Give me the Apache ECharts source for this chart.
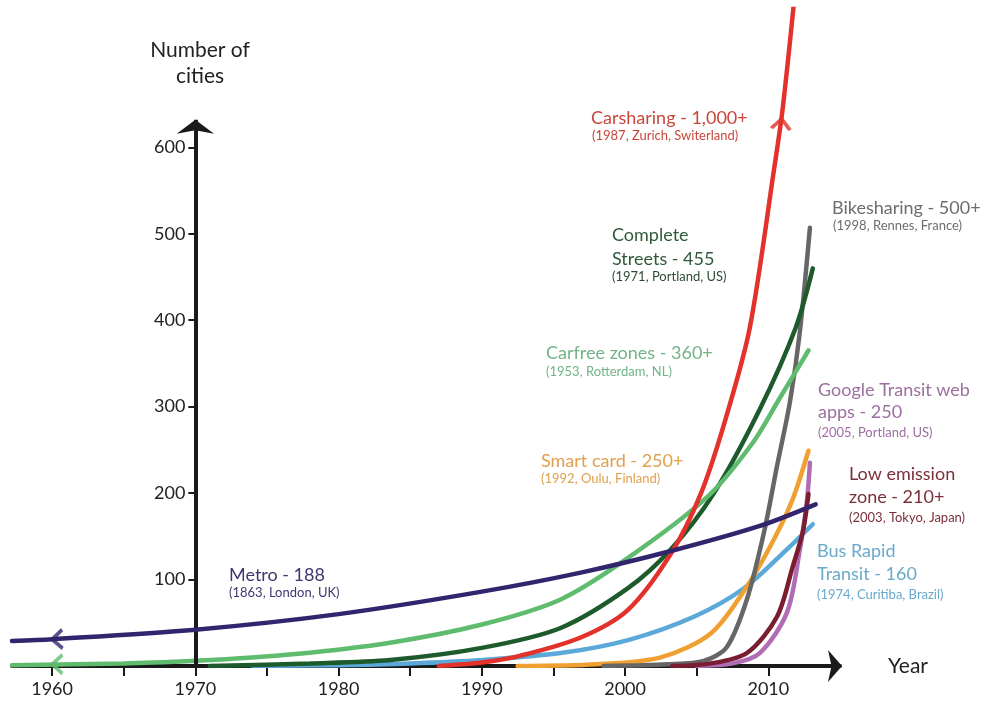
<!DOCTYPE html>
<html>
<head>
<meta charset="utf-8">
<script src="https://cdn.jsdelivr.net/npm/echarts@6/dist/echarts.min.js"></script>
<style>html,body{margin:0;padding:0;background:#fff}#c{width:987px;height:702px}</style>
</head>
<body>
<div id="c"></div>
<script>
// ---- data (year, number of cities) ----
const xTicks = [1960, 1965, 1970, 1975, 1980, 1985, 1990, 1995, 2000, 2005, 2010];
const xLabels = [1960, 1970, 1980, 1990, 2000, 2010];
const yLabels = [100, 200, 300, 400, 500, 600];

const metro = [[1957.2,29],[1960,31],[1970,42],[1980,60],[1990,86],[1996.9,108],[2003.2,133],[2009.4,162],[2013.3,187]];
const carfree = [[1957.2,1],[1965,3],[1970,6],[1977,14],[1983.6,27],[1990,48],[1995.5,77],[2000.2,125],[2005.7,195],[2008.9,258],[2010.8,310],[2012.8,365]];
const completeStreets = [[1971,0],[1978,3],[1983.6,7],[1990,21],[1995.5,44],[2000.2,90],[2003.2,135],[2006.2,200],[2009.4,297],[2011.9,391],[2013.1,460]];
const carsharing = [[1987,0],[1990,4],[1992.7,12],[1996.9,33],[2000.2,65],[2003.2,130],[2005.3,200],[2007,285],[2008.7,391],[2010.4,575],[2011,645],[2011.8,770]];
const bikesharing = [[1998.5,0],[2003,2],[2005.5,6],[2007.1,22],[2008.5,77],[2009.7,155],[2010.6,231],[2011.5,305],[2012.2,387],[2012.9,507]];
const smartCard = [[1992.5,0],[1998,2],[2002.5,10],[2006,38],[2008.5,92],[2010.4,147],[2011.7,193],[2012.8,249]];
const brt = [[1974,0],[1980,1],[1985,3],[1990,7],[1995.5,15],[2000.2,30],[2004.8,57],[2008.3,90],[2011.3,135],[2013.1,164]];
const lowEmission = [[2003.3,0],[2006,3],[2008.5,15],[2010.6,57],[2011.7,115],[2012.4,155],[2012.8,199]];
const googleTransit = [[2005,0],[2007.5,3],[2009.4,15],[2011.3,62],[2012.2,135],[2012.7,193],[2012.9,235]];

// arrow heads on the curves: [year, value]
const metroArrow = [1960.3, 31];
const carfreeArrow = [1960.3, 2];
const carsharingArrow = [2010.9, 628];

const XMIN = 1957.2, XMAX = 2015, YMIN = 0, YMAX = 760;
const GRID = {left: 12, right: 147, top: 9, bottom: 36};
const gridW = 987 - GRID.left - GRID.right;
const yAxisOffset = -((1970 - XMIN) / (XMAX - XMIN)) * gridW;

const FONT = 'Lato';
const chevron = 'path://M0,12 L10,0 L20,12 L17,14 L10,5.5 L3,14 Z';

function curve(name, data, color, z) {
  return {
    name, type: 'line', data, smooth: 0.3,
    symbol: 'none', z: z || 2,
    lineStyle: {color, width: 4.5, cap: 'round'},
    itemStyle: {color}
  };
}

function txt(text, x, y, size, color) {
  return {type: 'text', x, y, style: {text, fill: color, font: size + 'px ' + FONT, textVerticalAlign: 'middle'}};
}

const chart = echarts.init(document.getElementById('c'));
chart.setOption({
  backgroundColor: '#fff',
  animation: false,
  grid: GRID,
  xAxis: {
    type: 'value', min: XMIN, max: XMAX,
    name: 'Year', nameLocation: 'end', nameGap: 48,
    nameTextStyle: {fontFamily: FONT, fontSize: 21, color: '#222', verticalAlign: 'middle', padding: [6, 0, 0, 0]},
    axisLine: {show: true, onZero: false, symbol: ['none', 'arrow'], symbolSize: [24, 14], symbolOffset: [0, 2],
      lineStyle: {color: '#1a1a1a', width: 4}},
    axisTick: {show: true, customValues: xTicks, length: 10, lineStyle: {color: '#1a1a1a', width: 2}},
    axisLabel: {show: true, customValues: xLabels, margin: 14, fontFamily: FONT, fontSize: 18, color: '#222',
      formatter: v => String(v)},
    splitLine: {show: false}
  },
  yAxis: {
    type: 'value', min: YMIN, max: YMAX, position: 'left', offset: yAxisOffset,
    axisLine: {show: false},
    axisTick: {show: true, customValues: yLabels, length: 7, lineStyle: {color: '#1a1a1a', width: 2}},
    axisLabel: {show: true, customValues: yLabels, margin: 10, fontFamily: FONT, fontSize: 18, color: '#222'},
    splitLine: {show: false}
  },
  series: [
    curve('BRT', brt, '#5aa9d9', 2),
    curve('Smart card', smartCard, '#f0a031', 3),
    curve('Bikesharing', bikesharing, '#666666', 3),
    curve('Google Transit', googleTransit, '#b06db4', 4),
    curve('Low emission', lowEmission, '#7b1d30', 4),
    curve('Complete Streets', completeStreets, '#1d5a2c', 3),
    curve('Carfree', carfree, '#5fbb6d', 3),
    curve('Carsharing', carsharing, '#e2322b', 4),
    Object.assign(curve('Metro', metro, '#33256d', 5), {
      markLine: {
        silent: true, symbol: ['none', 'arrow'], symbolSize: [28, 14],
        label: {show: false},
        lineStyle: {color: '#1a1a1a', width: 4, type: 'solid'},
        data: [[{coord: [1970, 0]}, {coord: [1970, 632]}]]
      }
    }),
    {
      type: 'scatter', z: 6, silent: true,
      data: [
        {value: metroArrow, symbolRotate: 92, itemStyle: {color: '#33256d'}},
        {value: carfreeArrow, symbolRotate: 90, itemStyle: {color: '#5fbb6d'}},
        {value: carsharingArrow, symbolRotate: -6, itemStyle: {color: '#e2322b'}}
      ],
      symbol: chevron, symbolSize: [22, 14]
    }
  ],
  graphic: [
    {type: 'text', x: 200, y: 50, style: {text: 'Number of', fill: '#222', font: '21px ' + FONT, textAlign: 'center', textVerticalAlign: 'middle'}},
    {type: 'text', x: 200, y: 76, style: {text: 'cities', fill: '#222', font: '21px ' + FONT, textAlign: 'center', textVerticalAlign: 'middle'}},
    txt('Carsharing - 1,000+', 591, 118, 18, '#c8473b'),
    txt('(1987, Zurich, Switerland)', 592, 136, 13, '#c8473b'),
    txt('Bikesharing - 500+', 832, 208, 18, '#6d6d6d'),
    txt('(1998, Rennes, France)', 833, 226, 13, '#6d6d6d'),
    txt('Complete', 612, 235, 18, '#2f5a3a'),
    txt('Streets - 455', 612, 259, 18, '#2f5a3a'),
    txt('(1971, Portland, US)', 612, 277, 13, '#2f4a35'),
    txt('Carfree zones - 360+', 546, 353, 18, '#72b487'),
    txt('(1953, Rotterdam, NL)', 546, 372, 13, '#72b487'),
    txt('Google Transit web', 818, 390, 18, '#9c6f9f'),
    txt('apps - 250', 818, 412, 18, '#9c6f9f'),
    txt('(2005, Portland, US)', 818, 433, 13, '#9c6f9f'),
    txt('Smart card - 250+', 541, 461, 18, '#e2a04d'),
    txt('(1992, Oulu, Finland)', 541, 479, 13, '#e2a04d'),
    txt('Low emission', 849, 474, 18, '#7b2f3a'),
    txt('zone - 210+', 849, 497, 18, '#7b2f3a'),
    txt('(2003, Tokyo, Japan)', 849, 518, 13, '#7b2f3a'),
    txt('Bus Rapid', 817, 551, 18, '#69a9c9'),
    txt('Transit - 160', 817, 574, 18, '#69a9c9'),
    txt('(1974, Curitiba, Brazil)', 817, 595, 13, '#69a9c9'),
    txt('Metro - 188', 229, 575, 18, '#3d3870'),
    txt('(1863, London, UK)', 229, 593, 13, '#3d3870')
  ]
});
</script>
</body>
</html>
